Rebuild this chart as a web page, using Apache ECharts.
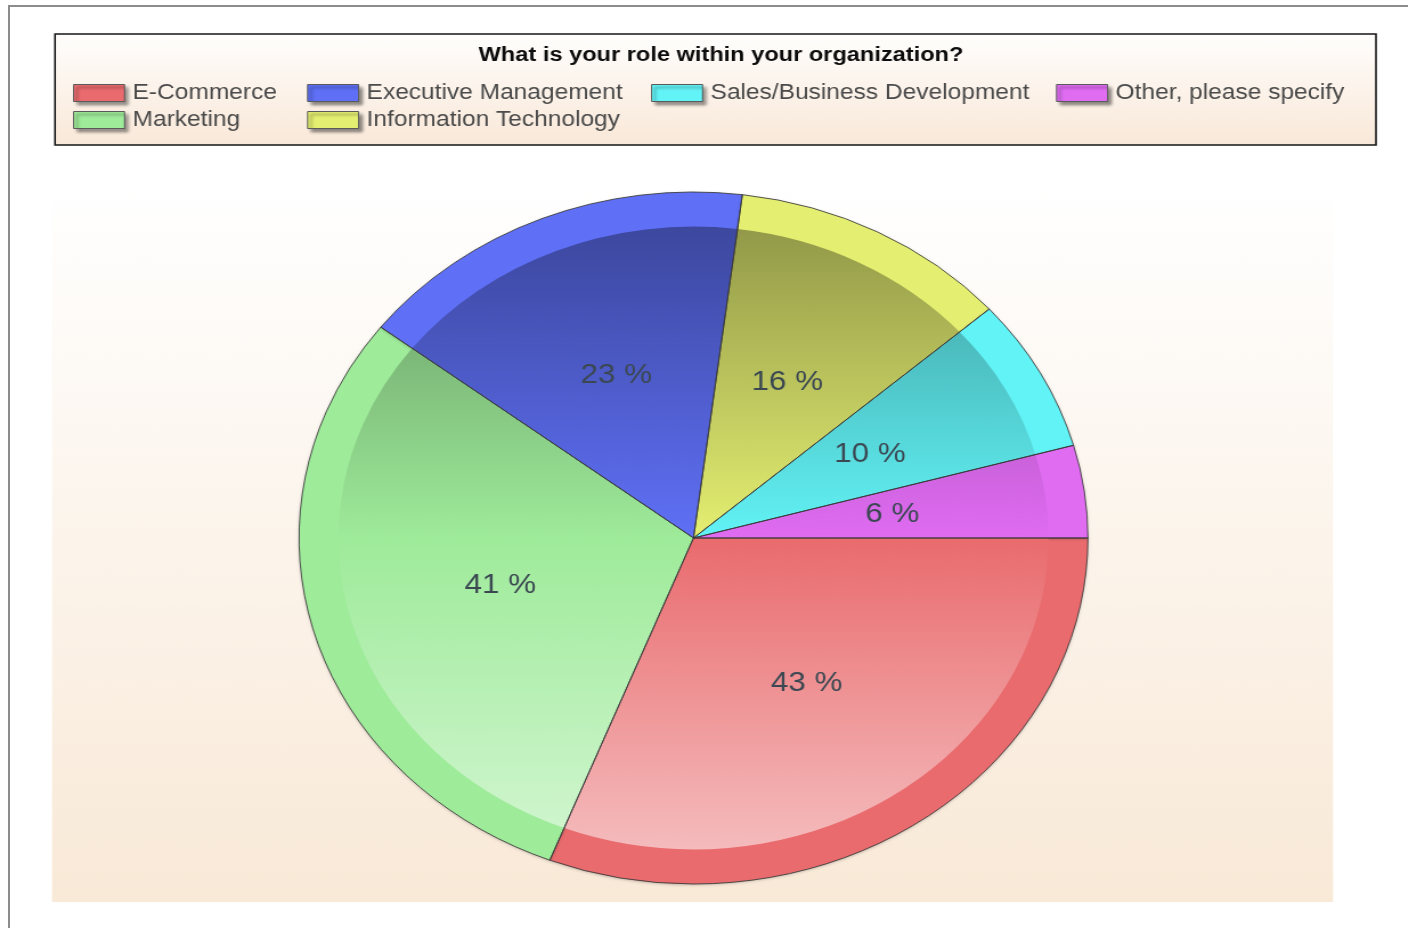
<!DOCTYPE html>
<html>
<head>
<meta charset="utf-8">
<script src="https://cdn.jsdelivr.net/npm/echarts@6/dist/echarts.min.js"></script>
<style>
  html, body { margin: 0; padding: 0; background: #ffffff; width: 1408px; height: 928px; overflow: hidden; }
  #frame { position: absolute; left: 8px; top: 5px; width: 1420px; height: 940px;
           border-left: 2px solid #8c8c8c; border-top: 2px solid #8c8c8c; }
  #chart { position: absolute; left: 0; top: 0; width: 1236px; height: 928px;
           transform: scaleX(1.14); transform-origin: 0 0; }
</style>
</head>
<body>
<div id="frame"></div>
<div id="chart"></div>
<script>
// ---- data ----
const titleText = 'What is your role within your organization?';
const categories = ['E-Commerce', 'Marketing', 'Executive Management', 'Information Technology', 'Sales/Business Development', 'Other, please specify'];
const percents = [43, 41, 23, 16, 10, 6];
const baseColors = ['#e96b6e', '#9eeb9a', '#5f70f6', '#e4ef71', '#62f3f6', '#e06cf2'];
const legendColumns = [
  ['E-Commerce', 'Marketing'],
  ['Executive Management', 'Information Technology'],
  ['Sales/Business Development'],
  ['Other, please specify']
];

// ---- layout (logical px; the canvas is stretched horizontally by K) ----
const K = 1.14;
const cx = 693.5 / K, cy = 538, R = 346;
const legendLefts = [73 / K, 307 / K, 651 / K, 1056 / K];

function rgb(hex) {
  return [parseInt(hex.slice(1, 3), 16), parseInt(hex.slice(3, 5), 16), parseInt(hex.slice(5, 7), 16)];
}
function toStr(a) { return 'rgb(' + a.map(v => Math.round(v)).join(',') + ')'; }
function shade(hex, f) { return toStr(rgb(hex).map(v => v * f)); }
function tint(hex, f) { return toStr(rgb(hex).map(v => v + (255 - v) * f)); }
function innerGradient(hex) {
  return {
    type: 'linear', global: true, x: cx, y: cy - R, x2: cx, y2: cy + R,
    colorStops: [
      { offset: 0, color: shade(hex, 0.6) },
      { offset: 0.5, color: shade(hex, 1.0) },
      { offset: 1, color: tint(hex, 0.6) }
    ]
  };
}

const rimData = categories.map((n, i) => ({ name: n, value: percents[i], itemStyle: { color: baseColors[i] } }));
const innerData = categories.map((n, i) => ({ name: n, value: percents[i], itemStyle: { color: innerGradient(baseColors[i]) } }));
const labelData = categories.map((n, i) => ({ name: n, value: percents[i] }));

const chart = echarts.init(document.getElementById('chart'), null, { renderer: 'canvas' });

const commonPie = {
  type: 'pie', center: [cx, cy], startAngle: 0, clockwise: true,
  avoidLabelOverlap: false, silent: true, animation: false,
  emphasis: { disabled: true }, labelLine: { show: false }
};

const legends = legendColumns.map((col, i) => ({
  orient: 'vertical', left: legendLefts[i], top: 82, padding: 0,
  itemWidth: 51 / K, itemHeight: 17, itemGap: 5, icon: 'rect',
  selectedMode: false,
  data: col,
  itemStyle: { borderColor: '#5a5a5a', borderWidth: 1, shadowColor: 'rgba(0,0,0,0.45)', shadowBlur: 3, shadowOffsetX: 3, shadowOffsetY: 3 },
  textStyle: { fontFamily: 'Liberation Sans, Arial, sans-serif', fontSize: 21.5, color: '#4a4a4a', padding: [0, 0, 0, 2] }
}));

chart.setOption({
  backgroundColor: 'transparent',
  animation: false,
  title: {
    text: titleText, left: 721 / K, top: 45, textAlign: 'center', padding: 0,
    textStyle: { fontFamily: 'Liberation Sans, Arial, sans-serif', fontWeight: 'bold', fontSize: 20.7, color: '#0c0c0c' }
  },
  legend: legends,
  graphic: [
    {
      type: 'rect', z: 0, silent: true,
      shape: { x: 52 / K, y: 190, width: (1333 - 52) / K, height: 712 },
      style: { fill: { type: 'linear', x: 0, y: 0, x2: 0, y2: 1, colorStops: [{ offset: 0, color: '#ffffff' }, { offset: 1, color: '#f9e9d7' }] } }
    },
    {
      type: 'rect', z: 0, silent: true,
      shape: { x: 55 / K, y: 34, width: (1376 - 55) / K, height: 111 },
      style: { fill: { type: 'linear', x: 0, y: 0, x2: 0, y2: 1, colorStops: [{ offset: 0, color: '#fffefd' }, { offset: 1, color: '#f9e8d8' }] },
               stroke: '#161616', lineWidth: 1.6 }
    }
  ],
  series: [
    Object.assign({}, commonPie, {
      name: 'rim', z: 2, radius: [0, R], data: rimData, label: { show: false },
      itemStyle: { shadowColor: 'rgba(0,0,0,0.25)', shadowBlur: 3, shadowOffsetY: 1 }
    }),
    Object.assign({}, commonPie, {
      name: 'inner', z: 3, radius: [0, R * 0.9], data: innerData, label: { show: false }
    }),
    Object.assign({}, commonPie, {
      name: 'labels', z: 4, radius: [0, R], data: labelData,
      itemStyle: { color: 'rgba(0,0,0,0)', borderColor: 'rgba(55,55,55,0.85)', borderWidth: 1 },
      label: {
        show: true, position: 'inside', formatter: '{c} %',
        fontFamily: 'Liberation Sans, Arial, sans-serif', fontSize: 27.5, color: '#3b4852'
      }
    })
  ]
});
</script>
</body>
</html>
